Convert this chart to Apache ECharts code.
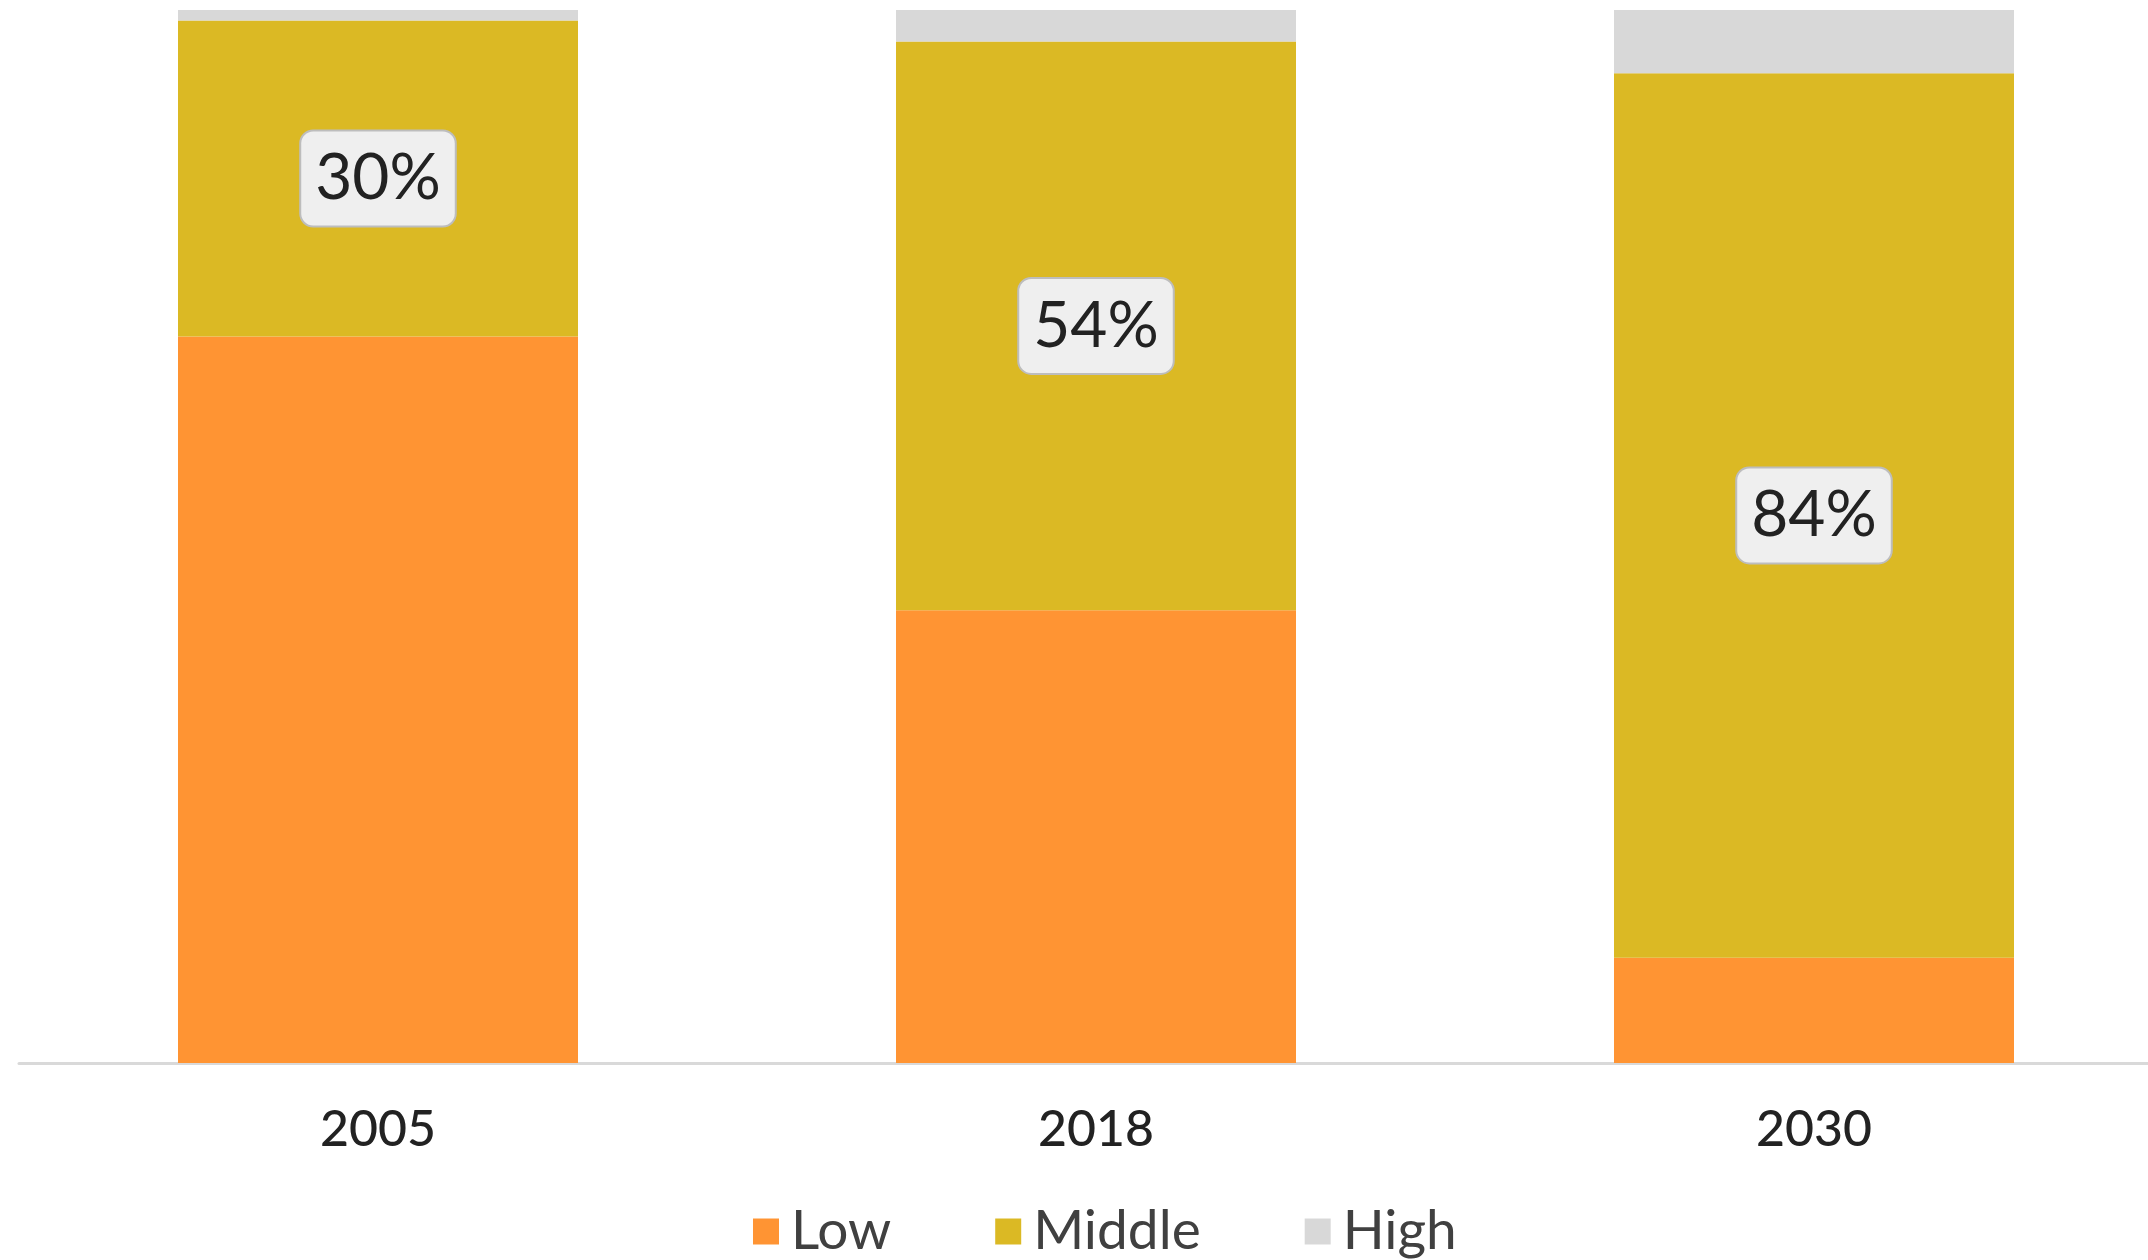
<!DOCTYPE html>
<html>
<head>
<meta charset="utf-8">
<script src="https://cdn.jsdelivr.net/npm/echarts@6/dist/echarts.min.js"></script>
<style>
html, body { margin: 0; padding: 0; background: #fff; overflow: hidden; }
/* the plot runs a little past the right edge in the original, so the canvas is wider than the window */
#chart { width: 2173px; height: 1260px; }
</style>
</head>
<body>
<div id="chart"></div>
<script>
// data (share of population, %)
var years = ['2005', '2018', '2030'];
var lowShare = [69, 43, 10];
var middleShare = [30, 54, 84];
var highShare = [1, 3, 6];

var seriesNames = ['Low', 'Middle', 'High'];
var colors = ['#ff9433', '#dbb924', '#d8d8d8'];

var chart = echarts.init(document.getElementById('chart'));

var option = {
  animation: false,
  color: colors,
  textStyle: { fontFamily: 'Lato, sans-serif' },
  grid: {
    left: 19,
    right: 0,
    top: 10,
    bottom: 197
  },
  legend: {
    data: seriesNames,
    left: 748,
    bottom: -4,
    icon: 'rect',
    itemWidth: 26,
    itemHeight: 26,
    itemGap: 104,
    textStyle: { fontSize: 55, color: '#404040', padding: [0, 0, 0, 7] }
  },
  xAxis: {
    type: 'category',
    data: years,
    axisLine: { lineStyle: { color: '#d9d9d9', width: 3 } },
    axisTick: { show: false },
    axisLabel: { fontSize: 50, color: '#222', margin: 42, fontWeight: 500 }
  },
  yAxis: {
    type: 'value',
    min: 0,
    max: 100,
    show: false,
    splitLine: { show: false }
  },
  series: [
    {
      name: 'Low',
      type: 'bar',
      stack: 'share',
      barWidth: 400,
      data: lowShare
    },
    {
      name: 'Middle',
      type: 'bar',
      stack: 'share',
      data: middleShare,
      label: {
        show: true,
        position: 'inside',
        formatter: '{c}%',
        fontSize: 64,
        color: '#222',
        backgroundColor: '#efefef',
        borderColor: '#bdbdbd',
        borderWidth: 2,
        borderRadius: 12,
        padding: [17, 14, 13, 14]
      }
    },
    {
      name: 'High',
      type: 'bar',
      stack: 'share',
      data: highShare
    }
  ]
};

chart.setOption(option);
</script>
</body>
</html>
